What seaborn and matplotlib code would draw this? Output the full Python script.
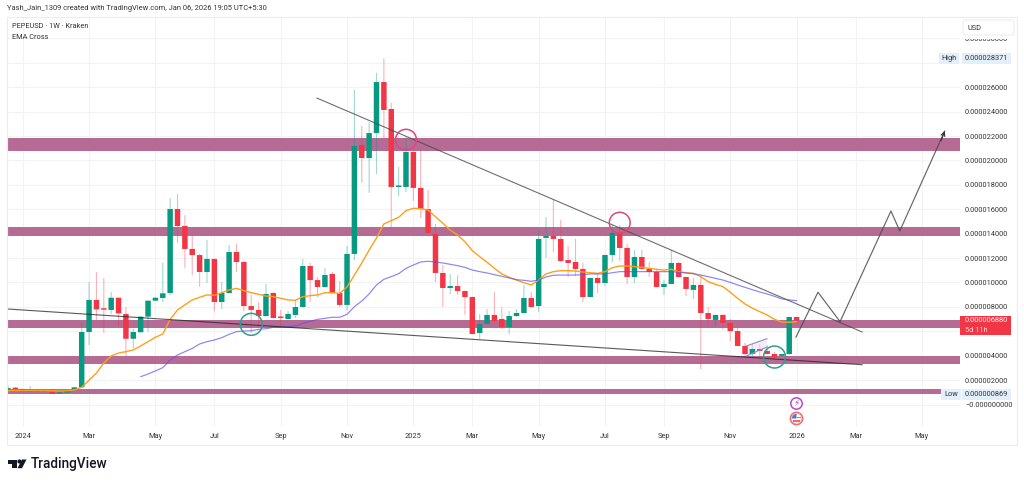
import pandas as pd
import matplotlib.pyplot as plt
import matplotlib.patches as mpatches
from matplotlib.ticker import FuncFormatter
import seaborn as sns

# weekly candles, prices in millionths of a USD
opens = [1.20, 1.38, 1.27, 1.08, 1.21, 1.16, 1.08, 0.87, 0.97, 1.19, 1.41, 5.94, 8.57, 7.85, 7.75, 8.75, 7.42, 5.39, 5.92, 7.20,
         8.51, 8.73, 9.14, 16.02, 14.63, 12.75, 12.25, 10.86, 11.93, 8.40, 9.14, 12.50, 11.68, 8.07, 7.75, 7.25, 9.14, 7.17, 7.01, 7.34,
         7.99, 11.35, 10.20, 9.63, 10.70, 9.14, 8.16, 12.34, 21.27, 20.20, 22.25, 26.43, 24.22, 17.83, 17.83, 20.70, 17.75, 16.02, 13.98, 10.78,
         9.55, 9.71, 9.30, 8.81, 5.86, 6.60, 7.34, 7.01, 6.35, 7.25, 7.50, 8.73, 8.07, 13.65, 13.81, 13.57, 11.84, 11.68, 11.11, 8.81,
         10.37, 9.96, 12.25, 14.06, 12.83, 10.45, 12.09, 11.11, 10.86, 9.63, 9.88, 11.60, 10.45, 9.39, 9.80, 7.50, 6.93, 7.34, 6.68, 6.02,
         4.80, 4.14, 4.55, 4.39, 4.14, 3.98, 4.14, 7.17]
highs = [1.60, 1.45, 1.30, 1.52, 1.25, 1.18, 1.10, 1.00, 1.19, 1.41, 6.70, 10.04, 10.84, 10.37, 9.22, 8.78, 7.97, 6.21, 7.20, 8.51,
         8.80, 11.62, 16.93, 17.25, 15.53, 13.89, 12.34, 13.48, 11.95, 10.04, 13.07, 13.16, 11.75, 8.98, 8.40, 9.88, 9.22, 7.75, 7.66, 8.48,
         11.93, 11.60, 10.45, 11.19, 10.86, 10.12, 12.99, 25.78, 22.83, 23.16, 27.17, 28.37, 24.71, 19.47, 21.93, 20.75, 20.86, 17.58, 14.80, 11.43,
         10.70, 10.61, 9.35, 8.85, 7.42, 7.83, 9.22, 7.99, 7.66, 7.83, 9.80, 9.22, 14.22, 15.37, 16.84, 15.12, 12.99, 13.57, 11.60, 10.40,
         10.70, 12.30, 14.71, 14.71, 13.16, 12.66, 12.66, 11.68, 11.03, 10.20, 12.66, 11.68, 10.48, 10.37, 10.61, 7.99, 7.37, 7.40, 7.01, 6.27,
         5.04, 4.96, 4.96, 4.88, 4.30, 4.17, 7.20, 7.20]
lows = [1.10, 1.20, 1.05, 1.05, 1.05, 1.05, 0.869, 0.87, 0.95, 1.17, 1.38, 4.88, 6.93, 5.89, 7.42, 6.38, 3.92, 4.60, 5.92, 5.97,
        8.50, 8.40, 8.98, 13.24, 11.19, 10.61, 9.63, 9.96, 7.66, 7.83, 9.10, 10.86, 7.66, 5.86, 6.43, 7.20, 7.05, 6.35, 6.93, 7.09,
        7.95, 8.40, 8.81, 9.60, 9.10, 7.99, 7.75, 11.84, 18.16, 17.34, 18.89, 21.84, 14.47, 17.09, 17.42, 16.68, 15.29, 14.00, 10.04, 7.99,
        9.06, 8.98, 7.34, 5.75, 5.37, 6.55, 6.60, 6.19, 5.78, 7.20, 7.45, 7.95, 7.58, 12.01, 12.50, 11.68, 10.45, 10.53, 8.40, 8.78,
        9.14, 9.71, 11.68, 11.76, 9.88, 9.96, 11.08, 10.45, 9.60, 8.98, 9.85, 10.42, 8.89, 8.65, 2.91, 6.35, 6.43, 6.11, 5.20, 4.77,
        3.89, 3.89, 3.89, 4.10, 3.65, 3.92, 4.06, 6.60]
closes = [1.35, 1.25, 1.08, 1.19, 1.08, 1.08, 0.87, 1.00, 1.19, 1.41, 5.94, 8.57, 7.80, 7.77, 8.75, 7.47, 5.39, 5.94, 7.20, 8.51,
          8.75, 9.11, 16.02, 14.63, 12.75, 12.25, 10.86, 11.93, 8.40, 9.14, 12.50, 11.68, 8.07, 7.75, 7.25, 9.06, 7.09, 7.09, 7.42, 7.99,
          11.35, 10.20, 9.63, 10.61, 9.14, 8.16, 12.34, 21.19, 20.20, 22.25, 26.43, 24.14, 17.83, 17.91, 20.70, 17.75, 16.02, 14.06, 10.78, 9.55,
          9.71, 9.30, 8.81, 5.78, 6.60, 7.34, 6.84, 6.35, 7.25, 7.50, 8.73, 7.99, 13.57, 13.81, 13.57, 11.76, 11.60, 11.11, 8.81, 10.37,
          9.96, 12.25, 14.06, 12.83, 10.45, 12.09, 11.11, 10.86, 9.63, 9.88, 11.60, 10.45, 9.47, 9.80, 7.50, 7.01, 7.34, 6.68, 6.02, 4.80,
          4.14, 4.55, 4.39, 4.14, 3.89, 4.14, 7.17, 6.88]

ema_fast = [1.15, 1.15, 1.15, 1.15, 1.15, 1.14, 1.12, 1.11, 1.13, 1.20, 1.41, 2.00, 2.58, 3.40, 3.98, 4.22, 4.33, 4.47, 4.80, 5.15,
            5.51, 5.78, 6.98, 7.75, 8.16, 8.57, 8.79, 8.98, 8.95, 9.16, 9.39, 9.52, 9.33, 9.16, 9.03, 8.89, 8.84, 8.70, 8.57, 8.54,
            8.84, 8.92, 8.98, 9.16, 9.16, 9.11, 9.63, 10.61, 11.60, 12.66, 13.65, 14.80, 15.07, 15.34, 15.89, 16.08, 16.05, 15.94, 15.39, 14.85,
            14.30, 13.89, 13.34, 12.61, 12.12, 11.66, 11.16, 10.70, 10.43, 10.20, 9.98, 9.80, 10.20, 10.70, 10.89, 10.97, 10.97, 10.94, 10.86, 10.80,
            10.75, 10.89, 11.21, 11.35, 11.35, 11.30, 11.24, 11.16, 11.08, 11.02, 11.08, 10.89, 10.80, 10.75, 10.48, 10.07, 9.85, 9.66, 9.20, 8.70,
            8.24, 7.89, 7.61, 7.34, 6.98, 6.76, 6.74, 6.79]
# slow EMA only starts on week 18
slow_start = 18
ema_slow = [2.28, 2.50, 2.75, 3.02, 3.65, 4.06, 4.33, 4.60, 4.96, 5.15, 5.29, 5.48, 5.75, 5.97, 6.02, 6.05, 6.16, 6.21, 6.33, 6.35,
            6.38, 6.43, 6.65, 6.82, 6.98, 7.06, 7.15, 7.15, 7.39, 8.02, 8.48, 9.06, 9.80, 10.26, 10.48, 10.72, 11.16, 11.43, 11.68, 11.74,
            11.68, 11.60, 11.49, 11.38, 11.24, 11.02, 10.89, 10.78, 10.64, 10.51, 10.37, 10.23, 10.18, 10.10, 10.20, 10.45, 10.59, 10.61, 10.61, 10.61,
            10.64, 10.70, 10.70, 10.70, 10.80, 10.89, 10.89, 10.89, 10.89, 10.89, 10.89, 10.89, 10.89, 10.84, 10.78, 10.72, 10.61, 10.48, 10.34, 10.20,
            10.01, 9.80, 9.60, 9.41, 9.22, 9.06, 8.87, 8.65, 8.57, 8.51]

# horizontal zones (low, high)
zone_low = [20.78, 13.80, 6.30, 3.32, 0.89]
zone_high = [21.84, 14.57, 6.93, 3.98, 1.27]

# drawn lines, week index and price
upper_trend_x = [41.9, 115.9]
upper_trend_y = [25.12, 5.94]
lower_trend_x = [-0.14, 115.9]
lower_trend_y = [7.83, 3.26]
path_x = [106.9, 109.9, 112.9, 119.8, 121.0, 127.1]
path_y = [5.51, 9.20, 6.79, 15.86, 14.22, 22.42]
pennant_x = [100.2, 103.0, 103.0, 100.2]
pennant_y = [4.80, 5.40, 4.72, 3.98]
pink_circle_x = [54.0, 83.0]
pink_circle_y = [21.70, 14.90]
teal_circle_x = [33.0, 104.0]
teal_circle_y = [6.57, 3.89]

tick_pos = [2, 11, 20, 28, 37, 46, 55, 63, 72, 81, 89, 98, 107, 115, 124]
tick_names = ['2024', 'Mar', 'May', 'Jul', 'Sep', 'Nov', '2025', 'Mar', 'May', 'Jul', 'Sep', 'Nov', '2026', 'Mar', 'May']
price_ticks = [0, 2, 4, 6, 8, 10, 12, 14, 16, 18, 20, 22, 24, 26, 28, 30]

high_label = '0.000028371'
low_label = '0.000000869'
last_label = '0.000006880'

GREEN = '#089981'
RED = '#f23645'
ZONE = '#b56b93'
GREY = '#4a4a4a'


def price_text(v, pos):
    # 6 and 28 sit under the last price and High tags
    if v in (6, 28):
        return ''
    if v == 0:
        return '\u22120.000000000'
    return f'{v * 1e-6:.9f}'


sns.set_theme(style='white')
plt.rcParams['font.family'] = ['Roboto', 'DejaVu Sans']

df = pd.DataFrame({'open': opens, 'high': highs, 'low': lows, 'close': closes, 'fast': ema_fast})
df['week'] = df.index
df['up'] = df['close'] >= df['open']
df['slow'] = [None] * slow_start + ema_slow
df['slow'] = df['slow'].astype(float)
colors = df['up'].map({True: GREEN, False: RED})

fig = plt.figure(figsize=(10.24, 4.83), dpi=100)
ax = fig.add_axes([7 / 1024, 56 / 483, 953 / 1024, 410 / 483])

# zones sit behind the candles
for lo, hi, end in zip(zone_low, zone_high, [1, 1, 1, 1, 934 / 953]):
    ax.axhspan(lo, hi, xmin=0, xmax=end, color=ZONE, lw=0, zorder=1)

wicks = ax.vlines(df['week'], df['low'], df['high'], colors=colors, lw=0.8, alpha=0.38, zorder=2)
wicks.set_snap(False)
body_bottom = df[['open', 'close']].min(axis=1)
body_height = (df['open'] - df['close']).abs().clip(lower=0.12)
bars = ax.bar(df['week'], body_height, bottom=body_bottom, width=0.74, color=colors, lw=0, zorder=3)
for b in bars:
    b.set_snap(False)

sns.lineplot(data=df, x='week', y='fast', color='#ff9f1c', lw=1.0, ax=ax, zorder=4)
sns.lineplot(data=df, x='week', y='slow', color='#5b50f0', lw=0.85, alpha=0.7, ax=ax, zorder=4)

sns.lineplot(x=upper_trend_x, y=upper_trend_y, color=GREY, lw=0.8, alpha=0.8, ax=ax, zorder=5)
sns.lineplot(x=lower_trend_x, y=lower_trend_y, color='#222222', lw=0.8, alpha=0.75, ax=ax, zorder=5)
ax.plot(path_x, path_y, color=GREY, lw=0.85, alpha=0.85, zorder=5)
ax.annotate('', xy=(path_x[-1], path_y[-1]), xytext=(path_x[-2] + 5.6, path_y[-2] + 7.4), zorder=5,
            arrowprops=dict(arrowstyle='->', color='#333333', lw=0.8, mutation_scale=7, shrinkA=0, shrinkB=0))

ax.fill(pennant_x, pennant_y, color='#e9def0', alpha=0.5, lw=0, zorder=2)
ax.plot(pennant_x[:2], pennant_y[:2], color='#9a86c8', lw=0.8, zorder=5)
ax.plot(pennant_x[2:], pennant_y[2:], color='#9a86c8', lw=0.8, zorder=5)

sns.scatterplot(x=pink_circle_x, y=pink_circle_y, s=225, facecolor='none', edgecolor='#e0457b', linewidth=1.1, ax=ax, zorder=6)
sns.scatterplot(x=teal_circle_x, y=teal_circle_y, s=250, facecolor='none', edgecolor='#2f9e8f', linewidth=1.1, ax=ax, zorder=6)

ax.set_xlim(-0.136, 129.17)
ax.set_ylim(-1.844, 31.76)
ax.set_xlabel('')
ax.set_ylabel('')
ax.set_xticks(tick_pos)
ax.set_xticklabels(tick_names)
ax.set_yticks(price_ticks)
ax.yaxis.tick_right()
ax.yaxis.set_major_formatter(FuncFormatter(price_text))
ax.tick_params(axis='both', length=0, labelsize=5.3, labelcolor='#333333')
ax.tick_params(axis='x', pad=4)
ax.tick_params(axis='y', pad=3.6)
ax.grid(True, color='#f3f3f3', lw=0.8)
ax.set_axisbelow(True)
for side in ax.spines.values():
    side.set_visible(False)

# page furniture drawn in pixel coordinates
over = fig.add_axes([0, 0, 1, 1], facecolor='none')
over.set_xlim(0, 1024)
over.set_ylim(483, 0)
over.axis('off')

over.add_patch(mpatches.Rectangle((6.5, 17), 1010.5, 427.5, fill=False, ec='#ececec', lw=0.8))
over.text(7, 8.5, 'Yash_Jain_1309 created with TradingView.com, Jan 06, 2026 19:05 UTC+5:30',
          fontsize=5.4, color='#333333', va='center')
over.text(11.5, 26, 'PEPEUSD \u00b7 1W \u00b7 Kraken', fontsize=5.3, color='#333333', va='center')
over.text(11.5, 37.5, 'EMA Cross', fontsize=5.3, color='#333333', va='center')

# USD tag also clips the top of the highest price label
over.add_patch(mpatches.Rectangle((961, 18), 55, 21, fc='white', lw=0))
over.add_patch(mpatches.FancyBboxPatch((963, 20), 51, 15, boxstyle='round,pad=0,rounding_size=2', fc='white', ec='#eeeeee', lw=0.8))
over.text(968, 28, 'USD', fontsize=5.3, color='#333333', va='center')

for top, side_name, price, left in [(53, 'High', high_label, 939), (389, 'Low', low_label, 941)]:
    over.add_patch(mpatches.Rectangle((left, top), 20, 11, fc='#e3effb', lw=0))
    over.add_patch(mpatches.Rectangle((962, top), 49, 11, fc='#e3effb', lw=0))
    over.text(left + 10, top + 5.5, side_name, fontsize=5.3, color='#333333', va='center', ha='center')
    over.text(965, top + 5.5, price, fontsize=5.3, color='#333333', va='center')

over.add_patch(mpatches.Rectangle((960, 315.5), 51, 19.5, fc=RED, lw=0))
over.text(965, 321, last_label, fontsize=5.3, color='white', va='center')
over.text(965, 330, '5d 11h', fontsize=5.3, color='#ffd5d9', va='center')

# event icons under the last candle
over.add_patch(mpatches.Circle((796.5, 403.5), 5.7, fc='white', ec='#b44bc9', lw=1.1))
over.text(796.5, 403.5, '\u26a1', fontsize=6.5, color='#b44bc9', ha='center', va='center', family='DejaVu Sans')
over.add_patch(mpatches.Circle((796.5, 418.5), 6.3, fc='#f7b6ba', ec='#f0656f', lw=0.9))
over.add_patch(mpatches.Circle((796.5, 418.5), 4.6, fc='white', lw=0))
over.add_patch(mpatches.Wedge((796.5, 418.5), 4.6, 180, 270, fc='#3f7fd0', lw=0))
over.add_patch(mpatches.Rectangle((796.5, 417), 4.2, 1.3, fc='#f0656f', lw=0))
over.add_patch(mpatches.Rectangle((793, 420.3), 7, 1.4, fc='#f0656f', lw=0))

# TradingView mark and wordmark
over.add_patch(mpatches.Rectangle((7.5, 459.5), 9, 4, fc='#131722', lw=0))
over.add_patch(mpatches.Rectangle((12, 459.5), 4.5, 8.7, fc='#131722', lw=0))
over.add_patch(mpatches.Circle((19.5, 461.5), 2.1, fc='#131722', lw=0))
over.add_patch(mpatches.Polygon([(22, 459.5), (26.5, 459.5), (22, 468.2), (17.5, 468.2)], fc='#131722', lw=0))
over.text(31, 464, 'TradingView', fontsize=9.8, fontweight='medium', color='#131722', va='center')

plt.savefig('out.png', dpi=100, facecolor='white')
